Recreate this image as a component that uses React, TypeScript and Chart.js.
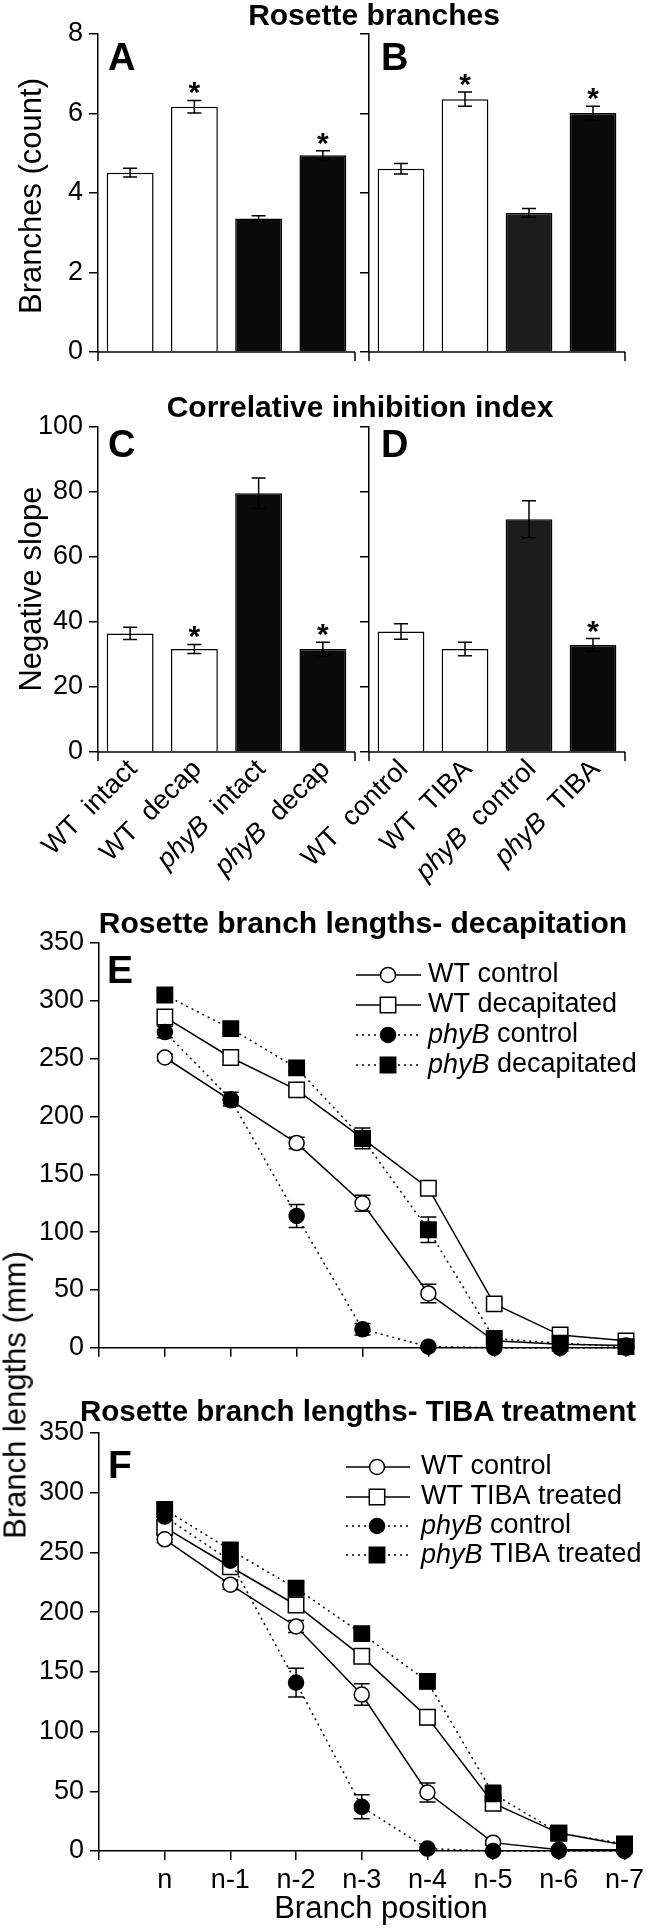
import React, { useEffect, useRef } from 'react';
import { Chart, registerables } from 'chart.js';
Chart.register(...registerables);

const FAMILY = "'Liberation Sans', Arial, Helvetica, sans-serif";
const TICK_SIZE = 27;
const AXIS_TITLE_SIZE = 31;

// ---------- Panels A / B : rosette branches (count) ----------
const genotypes = ['WT', 'WT', 'phyB', 'phyB'];
const treatmentsAC = ['intact', 'decap', 'intact', 'decap'];
const treatmentsBD = ['control', 'TIBA', 'control', 'TIBA'];
const branchesA = [4.51, 6.17, 3.36, 4.95];
const branchesAErr = [0.11, 0.16, 0.07, 0.11];
const branchesASig = [false, true, false, true];
const branchesB = [4.61, 6.36, 3.5, 6.01];
const branchesBErr = [0.13, 0.18, 0.11, 0.17];
const branchesBSig = [false, true, false, true];

// ---------- Panels C / D : correlative inhibition index ----------
const slopeC = [36.5, 31.7, 79.6, 31.7];
const slopeCErr = [1.9, 1.4, 4.7, 2.1];
const slopeCSig = [false, true, false, true];
const slopeD = [37.1, 31.7, 71.6, 32.9];
const slopeDErr = [2.4, 2.1, 5.7, 2.0];
const slopeDSig = [false, false, false, true];

const barColorsAC = ['#ffffff', '#ffffff', '#0a0a0a', '#0a0a0a'];
const barColorsBD = ['#ffffff', '#ffffff', '#1c1c1c', '#0a0a0a'];

// ---------- Panels E / F : branch lengths (mm) ----------
const branchPositions = ['n', 'n-1', 'n-2', 'n-3', 'n-4', 'n-5', 'n-6', 'n-7'];

const eWTControl = [251, 214, 177, 125, 47, 6, 3, 2];
const eWTControlErr = [3, 3, 5, 7, 8, 2, 1, 1];
const eWTDecap = [286, 251, 223, 181, 138, 38, 11, 6];
const eWTDecapErr = [4, 3, 3, 5, 4, 4, 2, 1];
const ePhyBControl = [273, 215, 114, 16, 1, 0, 0, 0];
const ePhyBControlErr = [5, 6, 10, 5, 1, 0, 0, 0];
const ePhyBDecap = [305, 276, 242, 181, 102, 8, 4, 1];
const ePhyBDecapErr = [4, 3, 3, 9, 11, 4, 2, 1];

const fWTControl = [261, 223, 188, 131, 49, 7, 1, 1];
const fWTControlErr = [3, 4, 5, 9, 8, 2, 1, 1];
const fWTTiba = [271, 238, 206, 163, 112, 40, 15, 5];
const fWTTibaErr = [5, 5, 5, 4, 6, 4, 2, 1];
const fPhyBControl = [280, 243, 141, 37, 2, 0, 0, 0];
const fPhyBControlErr = [5, 5, 12, 10, 1, 0, 0, 0];
const fPhyBTiba = [286, 252, 220, 182, 142, 48, 15, 6];
const fPhyBTibaErr = [5, 5, 5, 4, 6, 7, 3, 1];

const legendE = [['WT', ' control'], ['WT', ' decapitated'], ['phyB', ' control'], ['phyB', ' decapitated']];
const legendF = [['WT', ' control'], ['WT', ' TIBA treated'], ['phyB', ' control'], ['phyB', ' TIBA treated']];

type Pad = { left: number; top: number; right: number; bottom: number };

function drawMixed(ctx: any, parts: string[], x: number, y: number, size: number) {
  const gFont = (parts[0] === 'phyB' ? 'italic ' : '') + `${size}px ${FAMILY}`;
  const tFont = `${size}px ${FAMILY}`;
  ctx.textAlign = 'left';
  ctx.font = gFont;
  const gw = ctx.measureText(parts[0]).width;
  ctx.fillText(parts[0], x, y);
  ctx.font = tFont;
  ctx.fillText(parts[1], x + gw, y);
  return gw + ctx.measureText(parts[1]).width;
}

function makeBarConfig(p: {
  values: number[]; errs: number[]; sig: boolean[]; colors: string[];
  yMax: number; yStep: number; showY: boolean; yWidth: number; padding: Pad;
  letter: string; letterX: number; letterY: number; trts?: string[];
}) {
  const extras = {
    id: 'barExtras',
    afterDraw(chart: any) {
      const ctx = chart.ctx;
      const ca = chart.chartArea;
      const ys = chart.scales.y;
      const meta = chart.getDatasetMeta(0);
      ctx.save();
      ctx.strokeStyle = '#000';
      ctx.fillStyle = '#000';
      ctx.lineWidth = 1.5;
      meta.data.forEach((bar: any, i: number) => {
        const cx = bar.x;
        const yt = ys.getPixelForValue(p.values[i] + p.errs[i]);
        const yb = ys.getPixelForValue(p.values[i] - p.errs[i]);
        ctx.beginPath();
        ctx.moveTo(cx, yt); ctx.lineTo(cx, yb);
        ctx.moveTo(cx - 7, yt); ctx.lineTo(cx + 7, yt);
        ctx.moveTo(cx - 7, yb); ctx.lineTo(cx + 7, yb);
        ctx.stroke();
        if (p.sig[i]) {
          ctx.font = `bold 30px ${FAMILY}`;
          ctx.textAlign = 'center';
          ctx.textBaseline = 'alphabetic';
          const m = ctx.measureText('*');
          const target = yt - 12;
          const base = target + (m.actualBoundingBoxAscent - m.actualBoundingBoxDescent) / 2;
          ctx.fillText('*', cx, base);
        }
      });
      ctx.beginPath();
      ctx.moveTo(ca.left, ca.bottom); ctx.lineTo(ca.right, ca.bottom);
      ctx.moveTo(ca.left, ca.bottom); ctx.lineTo(ca.left, ca.bottom + 9);
      ctx.moveTo(ca.right, ca.bottom); ctx.lineTo(ca.right, ca.bottom + 9);
      ctx.stroke();
      ctx.font = `bold 38px ${FAMILY}`;
      ctx.textAlign = 'left';
      ctx.textBaseline = 'alphabetic';
      ctx.fillText(p.letter, p.letterX, p.letterY);
      if (p.trts) {
        meta.data.forEach((bar: any, i: number) => {
          ctx.save();
          ctx.translate(bar.x + 3, ca.bottom + 13);
          ctx.rotate(-Math.PI / 4);
          ctx.textBaseline = 'middle';
          const parts = [genotypes[i], '  ' + p.trts![i]];
          ctx.font = (parts[0] === 'phyB' ? 'italic ' : '') + `${TICK_SIZE}px ${FAMILY}`;
          const gw = ctx.measureText(parts[0]).width;
          ctx.font = `${TICK_SIZE}px ${FAMILY}`;
          const tw = ctx.measureText(parts[1]).width;
          drawMixed(ctx, parts, -(gw + tw), 0, TICK_SIZE);
          ctx.restore();
        });
      }
      ctx.restore();
    },
  };
  return {
    type: 'bar',
    data: {
      labels: genotypes.map((g, i) => g + ' ' + (p.trts ? p.trts[i] : String(i))),
      datasets: [{
        data: p.values,
        backgroundColor: p.colors,
        borderColor: '#000',
        borderWidth: 1.5,
        barPercentage: 0.73,
        categoryPercentage: 1,
      }],
    },
    options: {
      animation: false,
      responsive: false,
      devicePixelRatio: 1,
      layout: { padding: p.padding },
      plugins: { legend: { display: false }, tooltip: { enabled: false } },
      scales: {
        x: { display: false },
        y: {
          min: 0, max: p.yMax,
          ticks: { stepSize: p.yStep, display: p.showY, color: '#000', font: { family: FAMILY, size: TICK_SIZE }, padding: 6 },
          grid: { drawOnChartArea: false, drawTicks: true, tickLength: 9, color: '#000', lineWidth: 1.5 },
          border: { display: true, color: '#000', width: 1.5 },
          afterFit: (s: any) => { s.width = p.yWidth; },
        },
      },
    },
    plugins: [extras],
  };
}

type Series = { values: number[]; errs: number[]; filled: boolean; square: boolean; dotted: boolean };

function makeLineConfig(p: {
  series: Series[]; legend: string[][]; showX: boolean; xHeight: number; padding: Pad;
  letter: string; letterX: number; letterY: number;
  lg: { x1: number; x2: number; mx: number; tx: number; ys: number[] };
}) {
  const CIRC = 7.5;
  const RECT = 10.9;
  const drawMarker = (ctx: any, s: Series, x: number, y: number) => {
    ctx.save();
    ctx.setLineDash([]);
    ctx.lineWidth = 1.5;
    ctx.strokeStyle = '#000';
    ctx.fillStyle = s.filled ? '#000' : '#fff';
    ctx.beginPath();
    if (s.square) {
      const h = RECT * Math.SQRT1_2;
      ctx.rect(x - h, y - h, 2 * h, 2 * h);
    } else {
      ctx.arc(x, y, CIRC, 0, Math.PI * 2);
    }
    ctx.fill();
    ctx.stroke();
    ctx.restore();
  };
  const extras = {
    id: 'lineExtras',
    beforeDatasetsDraw(chart: any) {
      const ctx = chart.ctx;
      const xs = chart.scales.x;
      const ys = chart.scales.y;
      ctx.save();
      ctx.strokeStyle = '#000';
      ctx.lineWidth = 1.5;
      p.series.forEach((s) => {
        s.values.forEach((v, i) => {
          const e = s.errs[i];
          if (!e) return;
          const cx = xs.getPixelForValue(i);
          const yt = ys.getPixelForValue(v + e);
          const yb = ys.getPixelForValue(Math.max(0, v - e));
          ctx.beginPath();
          ctx.moveTo(cx, yt); ctx.lineTo(cx, yb);
          ctx.moveTo(cx - 8, yt); ctx.lineTo(cx + 8, yt);
          ctx.moveTo(cx - 8, yb); ctx.lineTo(cx + 8, yb);
          ctx.stroke();
        });
      });
      ctx.restore();
    },
    afterDraw(chart: any) {
      const ctx = chart.ctx;
      ctx.save();
      ctx.fillStyle = '#000';
      ctx.font = `bold 39px ${FAMILY}`;
      ctx.textAlign = 'left';
      ctx.textBaseline = 'alphabetic';
      ctx.fillText(p.letter, p.letterX, p.letterY);
      p.series.forEach((s, i) => {
        const y = p.lg.ys[i];
        ctx.strokeStyle = '#000';
        ctx.lineWidth = 1.5;
        ctx.setLineDash(s.dotted ? [2, 4] : []);
        ctx.beginPath();
        ctx.moveTo(p.lg.x1, y); ctx.lineTo(p.lg.x2, y);
        ctx.stroke();
        drawMarker(ctx, s, p.lg.mx, y);
        ctx.fillStyle = '#000';
        ctx.textBaseline = 'middle';
        drawMixed(ctx, p.legend[i], p.lg.tx, y, TICK_SIZE);
      });
      ctx.restore();
    },
  };
  return {
    type: 'line',
    data: {
      datasets: p.series.map((s) => ({
        data: s.values.map((v, i) => ({ x: i, y: v })),
        borderColor: '#000',
        borderWidth: 1.5,
        borderDash: s.dotted ? [2, 4] : [],
        pointStyle: s.square ? 'rect' : 'circle',
        pointRadius: s.square ? RECT : CIRC,
        pointBackgroundColor: s.filled ? '#000' : '#fff',
        pointBorderColor: '#000',
        pointBorderWidth: 1.5,
        fill: false,
        tension: 0,
        clip: false,
        order: s.filled ? 0 : 1,
      })),
    },
    options: {
      animation: false,
      responsive: false,
      devicePixelRatio: 1,
      layout: { padding: p.padding },
      plugins: { legend: { display: false }, tooltip: { enabled: false } },
      scales: {
        x: {
          type: 'linear', min: -1, max: 7,
          ticks: {
            stepSize: 1, autoSkip: false, maxRotation: 0, minRotation: 0, display: p.showX,
            callback: (v: any) => (v >= 0 && v <= 7 ? branchPositions[v] : ''),
            color: '#000', font: { family: FAMILY, size: TICK_SIZE }, padding: 4,
          },
          grid: { drawOnChartArea: false, drawTicks: true, tickLength: 9, color: '#000', lineWidth: 1.5 },
          border: { display: true, color: '#000', width: 1.5 },
          afterFit: (s: any) => { s.height = p.xHeight; },
        },
        y: {
          min: 0, max: 350,
          ticks: { stepSize: 50, color: '#000', font: { family: FAMILY, size: TICK_SIZE }, padding: 6 },
          grid: { drawOnChartArea: false, drawTicks: true, tickLength: 9, color: '#000', lineWidth: 1.5 },
          border: { display: true, color: '#000', width: 1.5 },
          afterFit: (s: any) => { s.width = 99; },
        },
      },
    },
    plugins: [extras],
  };
}

function ChartBox(props: { left: number; top: number; width: number; height: number; make: () => any }) {
  const ref = useRef<HTMLCanvasElement>(null);
  useEffect(() => {
    const chart = new Chart(ref.current as HTMLCanvasElement, props.make());
    return () => chart.destroy();
  }, []);
  return (
    <canvas
      ref={ref}
      width={props.width}
      height={props.height}
      style={{ position: 'absolute', left: props.left, top: props.top, width: props.width, height: props.height, display: 'block' }}
    />
  );
}

function Txt(props: { x: number; y: number; size: number; bold?: boolean; rotate?: boolean; children: any }) {
  return (
    <div
      style={{
        position: 'absolute', left: props.x, top: props.y,
        transform: 'translate(-50%, -50%)' + (props.rotate ? ' rotate(-90deg)' : ''),
        whiteSpace: 'nowrap', fontSize: props.size, lineHeight: props.size + 'px',
        fontWeight: props.bold ? 'bold' : 'normal', fontFamily: FAMILY, color: '#000',
      }}
    >
      {props.children}
    </div>
  );
}

export default function App() {
  const seriesE: Series[] = [
    { values: eWTControl, errs: eWTControlErr, filled: false, square: false, dotted: false },
    { values: eWTDecap, errs: eWTDecapErr, filled: false, square: true, dotted: false },
    { values: ePhyBControl, errs: ePhyBControlErr, filled: true, square: false, dotted: true },
    { values: ePhyBDecap, errs: ePhyBDecapErr, filled: true, square: true, dotted: true },
  ];
  const seriesF: Series[] = [
    { values: fWTControl, errs: fWTControlErr, filled: false, square: false, dotted: false },
    { values: fWTTiba, errs: fWTTibaErr, filled: false, square: true, dotted: false },
    { values: fPhyBControl, errs: fPhyBControlErr, filled: true, square: false, dotted: true },
    { values: fPhyBTiba, errs: fPhyBTibaErr, filled: true, square: true, dotted: true },
  ];
  return (
    <div style={{ position: 'absolute', left: 0, top: 0, width: 648, height: 1928, background: '#fff', overflow: 'hidden' }}>
      <ChartBox left={0} top={0} width={362} height={400} make={() => makeBarConfig({
        values: branchesA, errs: branchesAErr, sig: branchesASig, colors: barColorsAC,
        yMax: 8, yStep: 2, showY: true, yWidth: 98, padding: { left: 0, top: 34, right: 7, bottom: 48 },
        letter: 'A', letterX: 108, letterY: 70,
      })} />
      <ChartBox left={358} top={0} width={290} height={400} make={() => makeBarConfig({
        values: branchesB, errs: branchesBErr, sig: branchesBSig, colors: barColorsBD,
        yMax: 8, yStep: 2, showY: false, yWidth: 11, padding: { left: 0, top: 34, right: 23, bottom: 48 },
        letter: 'B', letterX: 23, letterY: 70,
      })} />
      <ChartBox left={0} top={400} width={362} height={500} make={() => makeBarConfig({
        values: slopeC, errs: slopeCErr, sig: slopeCSig, colors: barColorsAC,
        yMax: 100, yStep: 20, showY: true, yWidth: 98, padding: { left: 0, top: 27, right: 7, bottom: 148 },
        letter: 'C', letterX: 108, letterY: 57, trts: treatmentsAC,
      })} />
      <ChartBox left={200} top={400} width={448} height={500} make={() => makeBarConfig({
        values: slopeD, errs: slopeDErr, sig: slopeDSig, colors: barColorsBD,
        yMax: 100, yStep: 20, showY: false, yWidth: 169, padding: { left: 0, top: 27, right: 23, bottom: 148 },
        letter: 'D', letterX: 181, letterY: 57, trts: treatmentsBD,
      })} />
      <ChartBox left={0} top={900} width={648} height={470} make={() => makeLineConfig({
        series: seriesE, legend: legendE, showX: false, xHeight: 9, padding: { left: 0, top: 43, right: 22, bottom: 0 },
        letter: 'E', letterX: 107, letterY: 83,
        lg: { x1: 356, x2: 421, mx: 388, tx: 428, ys: [75, 105, 135, 165] },
      })} />
      <ChartBox left={0} top={1380} width={648} height={548} make={() => makeLineConfig({
        series: seriesF, legend: legendF, showX: true, xHeight: 77, padding: { left: 0, top: 53, right: 22, bottom: 0 },
        letter: 'F', letterX: 108, letterY: 98,
        lg: { x1: 346, x2: 410, mx: 377, tx: 421, ys: [87, 117, 146, 175] },
      })} />

      <Txt x={374} y={15} size={30} bold>Rosette branches</Txt>
      <Txt x={360} y={407} size={30} bold>Correlative inhibition index</Txt>
      <Txt x={363} y={923} size={30} bold>Rosette branch lengths- decapitation</Txt>
      <Txt x={358} y={1411} size={29.5} bold>Rosette branch lengths- TIBA treatment</Txt>

      <Txt x={30} y={196} size={AXIS_TITLE_SIZE} rotate>Branches (count)</Txt>
      <Txt x={30} y={589} size={AXIS_TITLE_SIZE} rotate>Negative slope</Txt>
      <Txt x={15} y={1395} size={AXIS_TITLE_SIZE} rotate>Branch lengths (mm)</Txt>
      <Txt x={381} y={1907} size={AXIS_TITLE_SIZE}>Branch position</Txt>
    </div>
  );
}
